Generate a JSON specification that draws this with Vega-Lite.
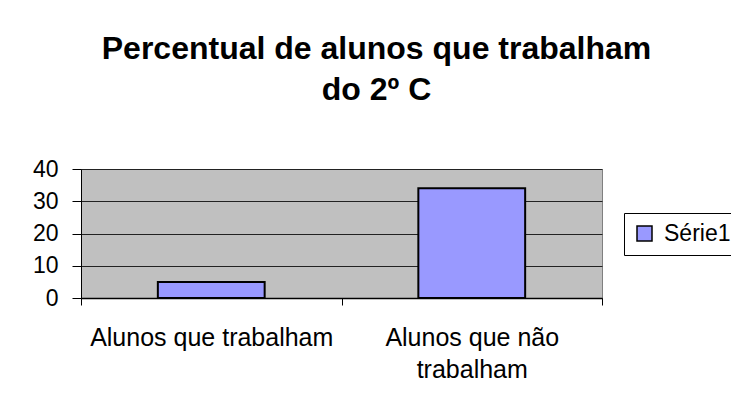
{
  "$schema": "https://vega.github.io/schema/vega-lite/v6.json",
  "autosize": {"type": "none"},
  "width": 521,
  "height": 129,
  "padding": {"left": 81, "top": 169, "right": 129, "bottom": 107},
  "background": "white",
  "title": {
    "text": ["Percentual de alunos que trabalham", "do 2º C"],
    "font": "Liberation Sans",
    "fontSize": 32,
    "fontWeight": "bold",
    "color": "black",
    "lineHeight": 41,
    "anchor": "middle",
    "dx": 35,
    "offset": 26,
    "baseline": "alphabetic"
  },
  "data": {
    "values": [
      {"categoria": "Alunos que trabalham", "valor": 5, "serie": "Série1"},
      {"categoria": "Alunos que não trabalham", "valor": 34, "serie": "Série1"}
    ]
  },
  "mark": {"type": "bar", "stroke": "black", "strokeWidth": 2, "width": {"band": 0.41}},
  "encoding": {
    "x": {
      "field": "categoria",
      "type": "nominal",
      "sort": null,
      "scale": {"paddingInner": 0, "paddingOuter": 0},
      "axis": {
        "title": null,
        "labelAngle": 0,
        "labelFont": "Liberation Sans",
        "labelFontSize": 25,
        "labelColor": "black",
        "labelPadding": 20,
        "labelLineHeight": 32,
        "labelLimit": 0,
        "tickBand": "extent",
        "tickSize": 7,
        "tickColor": "black",
        "domainColor": "black",
        "domainWidth": 1.5,
        "grid": false,
        "labelExpr": "datum.label == 'Alunos que não trabalham' ? ['Alunos que não', 'trabalham'] : datum.label"
      }
    },
    "y": {
      "field": "valor",
      "type": "quantitative",
      "scale": {"domain": [0, 40]},
      "axis": {
        "title": null,
        "values": [0, 10, 20, 30, 40],
        "labelFont": "Liberation Sans",
        "labelFontSize": 23,
        "labelColor": "black",
        "labelPadding": 14,
        "tickSize": 9,
        "tickColor": "black",
        "domainColor": "black",
        "grid": true,
        "gridColor": "#222222"
      }
    },
    "color": {
      "field": "serie",
      "type": "nominal",
      "scale": {"range": ["#9999FF"]},
      "legend": {
        "title": null,
        "orient": "none",
        "legendX": 543,
        "legendY": 44,
        "symbolType": "square",
        "symbolSize": 225,
        "symbolStrokeColor": "black",
        "symbolStrokeWidth": 1.5,
        "labelFont": "Liberation Sans",
        "labelFontSize": 23,
        "labelColor": "black",
        "labelOffset": 8,
        "strokeColor": "black",
        "fillColor": "white",
        "padding": 9
      }
    }
  },
  "config": {"view": {"fill": "#C0C0C0", "stroke": "#808080", "strokeWidth": 1}}
}
